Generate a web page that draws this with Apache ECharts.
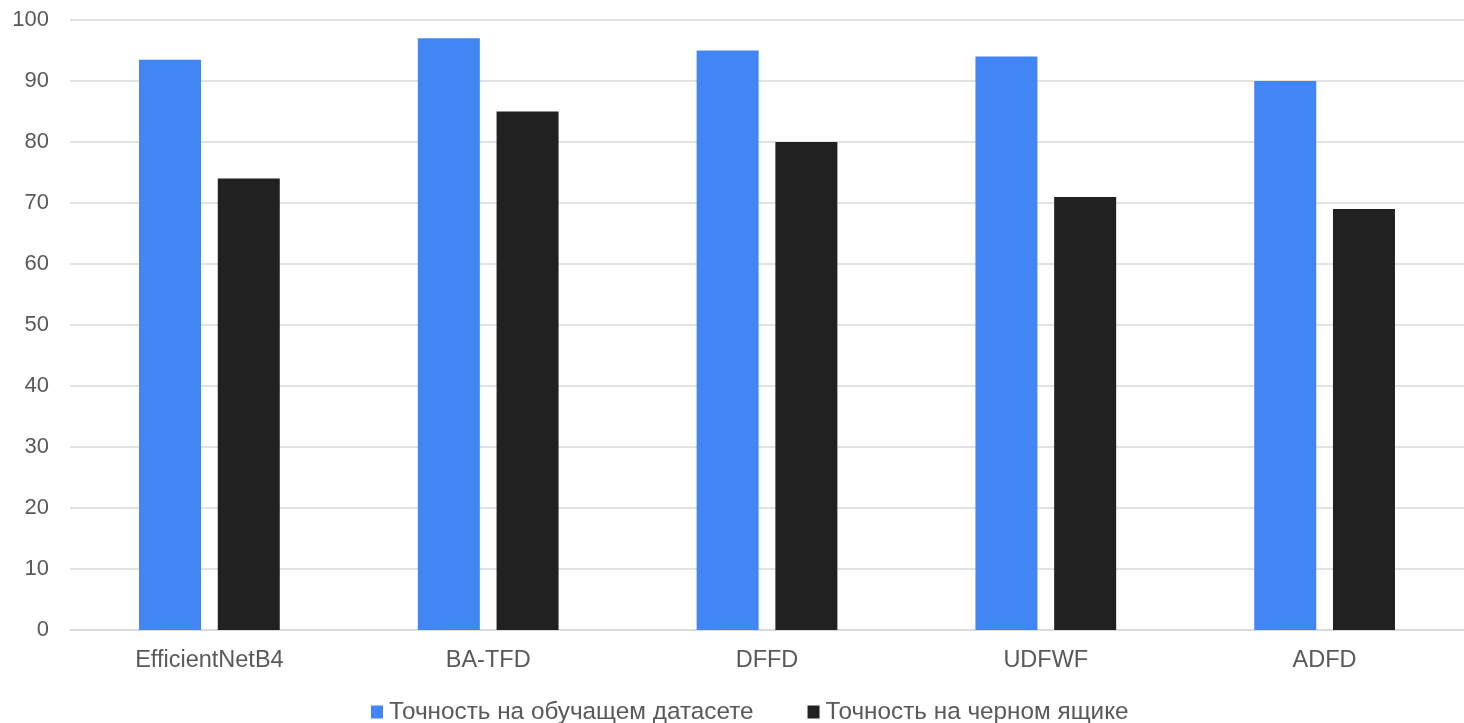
<!DOCTYPE html>
<html>
<head>
<meta charset="utf-8">
<script src="https://cdn.jsdelivr.net/npm/echarts@6/dist/echarts.min.js"></script>
<style>
  html, body { margin: 0; padding: 0; background: #fff; }
  #chart { width: 1464px; height: 723px; }
</style>
</head>
<body>
<div id="chart"></div>
<script>
// Models compared
const categories = ['EfficientNetB4', 'BA-TFD', 'DFFD', 'UDFWF', 'ADFD'];
// Accuracy on the training dataset, %
const trainAccuracy = [93.5, 97, 95, 94, 90];
// Accuracy on the black box, %
const blackBoxAccuracy = [74, 85, 80, 71, 69];
const seriesNames = ['Точность на обучащем датасете', 'Точность на черном ящике'];

const font = '"Liberation Sans", Arial, sans-serif';
const chart = echarts.init(document.getElementById('chart'), null, { renderer: 'canvas' });

chart.setOption({
  animation: false,
  grid: { left: 70, width: 1398, top: 20, bottom: 93, containLabel: false },
  legend: {
    top: 695,
    left: 366,
    itemWidth: 12,
    itemHeight: 13,
    itemGap: 54,
    icon: 'rect',
    textStyle: { fontFamily: font, fontSize: 24.3, color: '#595959', padding: [0, 0, 0, 1] },
    data: seriesNames
  },
  xAxis: {
    type: 'category',
    data: categories,
    axisLine: { show: true, lineStyle: { color: '#d9d9d9', width: 1.5 } },
    axisTick: { show: false },
    axisLabel: { fontFamily: font, fontSize: 23.5, color: '#595959', margin: 19 }
  },
  yAxis: {
    type: 'value',
    min: 0,
    max: 100,
    interval: 10,
    axisLine: { show: false },
    axisTick: { show: false },
    splitLine: { lineStyle: { color: '#d9d9d9', width: 1.5 } },
    axisLabel: { fontFamily: font, fontSize: 22, color: '#595959', margin: 21 }
  },
  series: [
    {
      name: seriesNames[0],
      type: 'bar',
      data: trainAccuracy,
      barWidth: 62,
      barGap: '27%',
      itemStyle: { color: '#4285f4' }
    },
    {
      name: seriesNames[1],
      type: 'bar',
      data: blackBoxAccuracy,
      barWidth: 62,
      itemStyle: { color: '#212121' }
    }
  ]
});
</script>
</body>
</html>
